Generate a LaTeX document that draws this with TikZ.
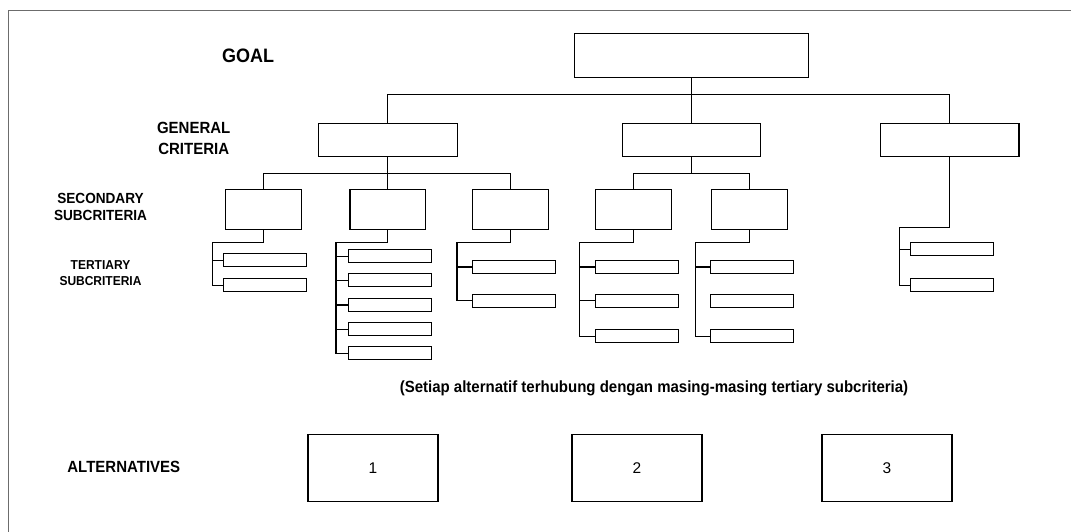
\documentclass[tikz,border=0pt]{standalone}
\usepackage{fontspec}
\setmainfont{Liberation Sans}
\newcommand{\vstretch}[1]{\scalebox{1}[1.08]{#1}}
\begin{document}
\begin{tikzpicture}[x=1pt,y=-1pt,
  box/.style={draw=black, line width=1.1pt, inner sep=0pt, outer sep=0pt, anchor=center},
  goalbox/.style={box, minimum width=234pt, minimum height=44.4pt},
  genbox/.style={box, minimum width=138.5pt, minimum height=33.4pt},
  secbox/.style={box, minimum width=75.7pt, minimum height=40.3pt},
  tertbox/.style={box, minimum width=83pt, minimum height=13pt},
  altbox/.style={box, minimum width=130pt, minimum height=66.7pt, font=\fontsize{15.5}{18}\selectfont},
  lbl/.style={inner sep=0pt, align=center},
  conn/.style={draw=black, line width=1.1pt}]
\useasboundingbox (0,0) rectangle (1071,532);
% frame
\draw[gray!85!black, line width=1.3pt] (8.7,532) -- (8.7,10.7) -- (1071,10.7);

% labels
\node[lbl, anchor=base, font=\bfseries\fontsize{18}{22}\selectfont] (lgoal) at (248,62.3) {\vstretch{GOAL}};
\node[lbl, font=\bfseries\fontsize{15}{19}\selectfont] (lgen) at (193.7,140) {\vstretch{\begin{tabular}{@{}c@{}}GENERAL\\CRITERIA\end{tabular}}};
\node[lbl, font=\bfseries\fontsize{13.6}{15.5}\selectfont] (lsec) at (100.5,208.7) {\vstretch{\begin{tabular}{@{}c@{}}SECONDARY\\SUBCRITERIA\end{tabular}}};
\node[lbl, font=\bfseries\fontsize{12}{14}\selectfont] (lter) at (100.5,274.5) {\vstretch{\begin{tabular}{@{}c@{}}TERTIARY\\SUBCRITERIA\end{tabular}}};
\node[lbl, anchor=base, font=\bfseries\fontsize{15}{18}\selectfont] (lalt) at (123.8,472.7) {\vstretch{ALTERNATIVES}};
\node[lbl, anchor=base, font=\bfseries\fontsize{15}{18}\selectfont] (note) at (654,392.7) {\vstretch{(Setiap alternatif terhubung dengan masing-masing tertiary subcriteria)}};

% goal and general criteria
\node[goalbox] (goal) at (691.3,55.5) {};
\node[genbox] (g1) at (387.8,140) {};
\node[genbox] (g2) at (691.3,140) {};
\node[genbox] (g3) at (949.7,140) {};

% secondary
\node[secbox] (s1) at (263.5,209.2) {};
\node[secbox] (s2) at (387.8,209.2) {};
\node[secbox] (s3) at (510.2,209.2) {};
\node[secbox] (s4) at (633.2,209.2) {};
\node[secbox] (s5) at (749.3,209.2) {};

% tertiary
\node[tertbox] (t11) at (264.7,260.4) {};
\node[tertbox] (t12) at (264.7,285.3) {};
\node[tertbox] (t21) at (389.8,256.1) {};
\node[tertbox] (t22) at (389.8,280.4) {};
\node[tertbox] (t23) at (389.8,305.0) {};
\node[tertbox] (t24) at (389.8,329.4) {};
\node[tertbox] (t25) at (389.8,353.2) {};
\node[tertbox] (t31) at (514.2,267.0) {};
\node[tertbox] (t32) at (514.2,300.7) {};
\node[tertbox] (t41) at (637.0,267.0) {};
\node[tertbox] (t42) at (637.0,300.7) {};
\node[tertbox] (t43) at (637.0,336.2) {};
\node[tertbox] (t51) at (752.2,267.0) {};
\node[tertbox] (t52) at (752.2,300.7) {};
\node[tertbox] (t53) at (752.2,336.2) {};
\node[tertbox] (t61) at (951.8,249.1) {};
\node[tertbox] (t62) at (951.8,285.3) {};

% alternatives
\node[altbox] (a1) at (373,467.7) {1};
\node[altbox] (a2) at (637,467.7) {2};
\node[altbox] (a3) at (887,467.7) {3};

% bus coordinates
\coordinate (bus0) at (0,94.3);
\coordinate (bus1) at (0,173.3);
\coordinate (c1) at (212.7,242.3);
\coordinate (c2) at (336.0,242.3);
\coordinate (c3) at (457.0,242.3);
\coordinate (c4) at (579.7,242.3);
\coordinate (c5) at (695.7,242.3);
\coordinate (c6) at (899.7,227.3);

% goal -> general
\draw[conn] (goal.south) -- (g2.north);
\draw[conn] (g1.north) |- (g3.north |- bus0) -- (g3.north);
% general -> secondary
\draw[conn] (g1.south) -- (s2.north);
\draw[conn] (s1.north) |- (s3.north |- bus1) -- (s3.north);
\draw[conn] (g2.south) -- (g2.south |- bus1);
\draw[conn] (s4.north) |- (s5.north |- bus1) -- (s5.north);
% secondary -> tertiary
\draw[conn] (s1.south) |- (c1) |- (t12.west);
\draw[conn] (c1 |- t11.west) -- (t11.west);
\draw[conn] (s2.south) |- (c2) |- (t25.west);
\draw[conn] (c2 |- t21.west) -- (t21.west);
\draw[conn] (c2 |- t22.west) -- (t22.west);
\draw[conn] (c2 |- t23.west) -- (t23.west);
\draw[conn] (c2 |- t24.west) -- (t24.west);
\draw[conn] (s3.south) |- (c3) |- (t32.west);
\draw[conn] (c3 |- t31.west) -- (t31.west);
\draw[conn] (s4.south) |- (c4) |- (t43.west);
\draw[conn] (c4 |- t41.west) -- (t41.west);
\draw[conn] (c4 |- t42.west) -- (t42.west);
\draw[conn] (s5.south) |- (c5) |- (t53.west);
\draw[conn] (c5 |- t51.west) -- (t51.west);
\draw[conn] (g3.south) |- (c6) |- (t62.west);
\draw[conn] (c6 |- t61.west) -- (t61.west);
\end{tikzpicture}
\end{document}
